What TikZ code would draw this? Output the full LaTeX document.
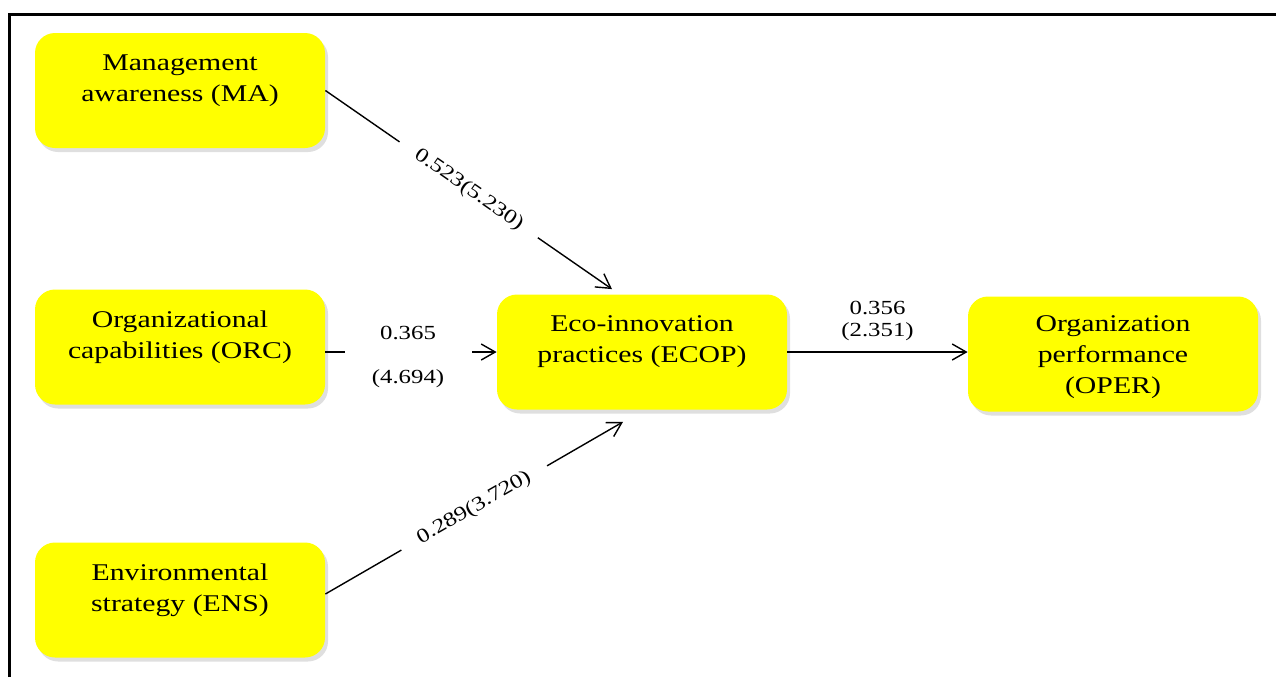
\documentclass[tikz,border=0pt]{standalone}
\usepackage{fontspec}
\setmainfont{Liberation Serif}[FakeStretch=1.24]
\usepackage{tikz}
\usetikzlibrary{arrows.meta,shadows,calc}
\definecolor{boxyellow}{RGB}{255,255,0}

\begin{document}
\begin{tikzpicture}[x=0.5pt,y=-0.5pt,
    construct/.style={rectangle,rounded corners=10pt,fill=boxyellow,
      minimum width=145pt,minimum height=57.5pt,
      drop shadow={shadow xshift=1.5pt,shadow yshift=-2pt,opacity=0.25}},
    boxtext/.style={align=center,font=\fontsize{12}{15.5}\selectfont,yshift=5pt},
    link/.style={line width=0.7pt,-{Straight Barb[length=7pt,width=8pt]}},
    coef/.style={font=\fontsize{10}{11}\selectfont},
    gaplabel/.style={coef,fill=white,sloped,minimum width=84pt}]
  \useasboundingbox (0,0) rectangle (1276,677);
  % frame
  \draw[line width=1.5pt] (9.5,677) -- (9.5,14.5) -- (1276,14.5);
  % constructs
  \node[construct,label={[boxtext]center:Management\\awareness (MA)}] (ma) at (180,90.5) {};
  \node[construct,label={[boxtext]center:Organizational\\capabilities (ORC)}] (orc) at (180,347) {};
  \node[construct,label={[boxtext]center:Environmental\\strategy (ENS)}] (ens) at (180,600) {};
  \node[construct,label={[boxtext]center:Eco-innovation\\practices (ECOP)}] (ecop) at (642,352) {};
  \node[construct,label={[boxtext,yshift=-6.5pt]center:Organization\\performance\\(OPER)}] (oper) at (1113,354) {};
  % paths
  \draw[link] (ma.east) -- node[gaplabel]{0.523(5.230)} ([xshift=-15pt,yshift=2.5pt]ecop.north);
  \draw[link] ([yshift=3pt]ens.east) -- node[gaplabel]{0.289(3.720)} ([xshift=-9.5pt,yshift=-6pt]ecop.south);
  \draw[link] (ecop.west -| orc.east) -- node[gaplabel,minimum width=63.5pt,align=center,yshift=-2.5pt,xshift=-1.5pt]{0.365\\[11pt](4.694)} (ecop.west);
  \draw[link] (ecop.east) -- node[coef,above=2pt,align=center]{0.356\\(2.351)} (ecop.east -| oper.west);
\end{tikzpicture}
\end{document}
